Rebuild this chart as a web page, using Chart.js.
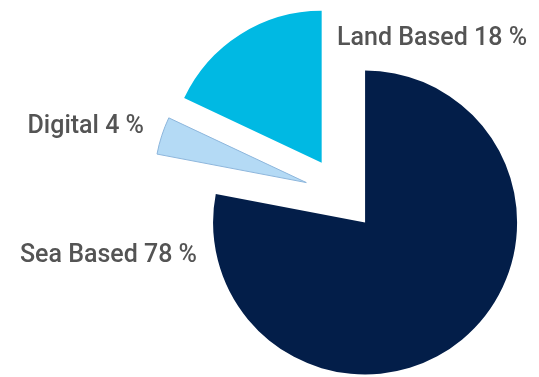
<!DOCTYPE html>
<html>
<head>
<meta charset="utf-8">
<script src="https://cdn.jsdelivr.net/npm/chart.js@4"></script>
<style>
  html, body { margin: 0; padding: 0; background: #fff; }
  #pie { display: block; }
</style>
</head>
<body>
<canvas id="pie" width="539" height="377"></canvas>
<script>
// data
const categories = ['Sea Based', 'Digital', 'Land Based'];
const shares = [78, 4, 18];

const sliceColors = ['#031e49', '#b4daf5', '#00b9e3'];
const explode = [37, 37, 37];          // px each slice is pulled out from the centre
const labelFont = '500 25px Roboto, "Noto Sans", sans-serif';

// label anchors: [x, baseline, align]
const labelPos = [
    [197, 262, 'right'],
    [144, 133, 'right'],
    [337, 45, 'left']
];

// pulls every arc out along its mid angle
const explodePlugin = {
    id: 'explode',
    afterDatasetsUpdate(chart) {
        const area = chart.chartArea;
        const cx = (area.left + area.right) / 2;
        const cy = (area.top + area.bottom) / 2;
        chart.getDatasetMeta(0).data.forEach((arc, i) => {
            const mid = (arc.startAngle + arc.endAngle) / 2;
            arc.x = cx + Math.cos(mid) * explode[i];
            arc.y = cy + Math.sin(mid) * explode[i];
        });
    }
};

// slice captions built from the data
const captionPlugin = {
    id: 'captions',
    afterDraw(chart) {
        const ctx = chart.ctx;
        const ds = chart.data.datasets[0];
        ctx.save();
        ctx.font = labelFont;
        ctx.fillStyle = '#545454';
        ctx.textBaseline = 'alphabetic';
        chart.data.labels.forEach((lab, i) => {
            const [x, y, align] = labelPos[i];
            ctx.textAlign = align;
            ctx.fillText(lab + ' ' + ds.data[i] + ' %', x, y);
        });
        ctx.restore();
    }
};

new Chart(document.getElementById('pie'), {
    type: 'pie',
    data: {
        labels: categories,
        datasets: [{
            data: shares,
            backgroundColor: sliceColors,
            borderColor: ['#031e49', '#8db6dc', '#00b9e3'],
            borderWidth: [0, 1, 0]
        }]
    },
    options: {
        responsive: false,
        animation: false,
        radius: 152,
        layout: { padding: { left: 144, right: 0, top: 11, bottom: 0 } },
        plugins: {
            legend: { display: false },
            tooltip: { enabled: false }
        },
        events: []
    },
    plugins: [explodePlugin, captionPlugin]
});
</script>
</body>
</html>
